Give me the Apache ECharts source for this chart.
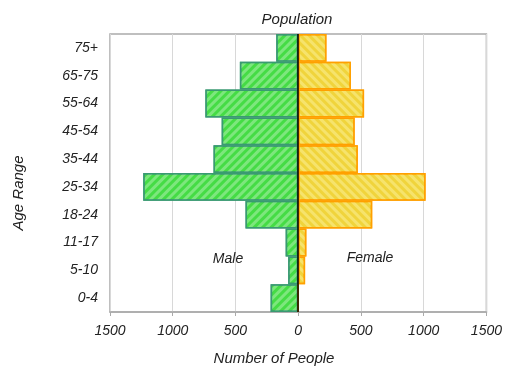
<!DOCTYPE html>
<html><head><meta charset="utf-8">
<script src="https://cdn.jsdelivr.net/npm/echarts@6/dist/echarts.min.js"></script>
<style>html,body{margin:0;padding:0;background:#fff}#c{width:505px;height:368px}</style>
</head><body><div id="c"></div>
<script>
var categories = ['0-4','5-10','11-17','18-24','25-34','35-44','45-54','55-64','65-75','75+'];
var maleValues = [220, 80, 100, 420, 1235, 675, 610, 740, 465, 175];
var femaleValues = [0, 55, 65, 590, 1015, 475, 450, 525, 420, 225];
var xTicks = [-1500, -1000, -500, 0, 500, 1000, 1500];

var font = 'Liberation Sans, Arial, sans-serif';
var chart = echarts.init(document.getElementById('c'));
chart.setOption({
  animation: false,
  backgroundColor: '#fff',
  title: {text: 'Population', left: 292, textAlign: 'center', top: 7,
    textStyle: {fontFamily: font, fontStyle: 'italic', fontWeight: 'normal', fontSize: 15, color: '#222'}},
  grid: {left: 110, right: 18, top: 34, bottom: 56, show: true, borderColor: '#aaa', borderWidth: 1.5, backgroundColor: 'transparent'},
  xAxis: {type: 'value', min: xTicks[0], max: xTicks[xTicks.length-1], interval: 500,
    axisLine: {show: true, lineStyle: {color: '#aaa', width: 1.5}},
    axisTick: {show: true, length: 4, lineStyle: {color: '#aaa'}},
    splitLine: {show: true, lineStyle: {color: '#d8d8d8', width: 1}},
    axisLabel: {formatter: function(v){return Math.abs(v);}, margin: 12, fontFamily: font, fontStyle: 'italic', fontSize: 14, color: '#222'}
  },
  yAxis: {type: 'category', data: categories,
    axisLine: {show: false}, axisTick: {show: false}, splitLine: {show: false},
    axisLabel: {margin: 12, fontFamily: font, fontStyle: 'italic', fontSize: 14, color: '#222'}
  },
  graphic: [
    {type: 'text', x: 274, y: 359, style: {text: 'Number of People', font: 'italic 15px ' + font, fill: '#222', textAlign: 'center', textVerticalAlign: 'middle'}},
    {type: 'text', x: 19, y: 193, rotation: Math.PI/2, style: {text: 'Age Range', font: 'italic 15px ' + font, fill: '#222', textAlign: 'center', textVerticalAlign: 'middle'}},
    {type: 'text', x: 228, y: 259, z: 100, style: {text: 'Male', font: 'italic 14px ' + font, fill: '#222', textAlign: 'center', textVerticalAlign: 'middle'}},
    {type: 'text', x: 370, y: 258, z: 100, style: {text: 'Female', font: 'italic 14px ' + font, fill: '#222', textAlign: 'center', textVerticalAlign: 'middle'}}
  ],
  series: [
    {name: 'Male', type: 'bar', data: maleValues.map(function(v){return -v;}),
      barGap: '-100%', barCategoryGap: '0%',
      itemStyle: {color: '#45dc45', borderColor: '#3a9a72', borderWidth: 1.5,
        decal: {symbol: 'rect', dashArrayX: [1, 0], dashArrayY: [2.5, 3], rotation: -Math.PI/4, color: 'rgba(255,255,255,0.3)'}},
      markLine: {silent: true, symbol: 'none', label: {show: false}, z: 10,
        lineStyle: {color: '#000', width: 1.5, type: 'solid'}, data: [{xAxis: 0}]}
    },
    {name: 'Female', type: 'bar', data: femaleValues,
      barGap: '-100%', barCategoryGap: '0%',
      itemStyle: {color: '#f0d43c', borderColor: '#ffa000', borderWidth: 1.5,
        decal: {symbol: 'rect', dashArrayX: [1, 0], dashArrayY: [2.5, 3], rotation: Math.PI/4, color: 'rgba(255,250,180,0.4)'}}
    }
  ]
});
</script></body></html>
